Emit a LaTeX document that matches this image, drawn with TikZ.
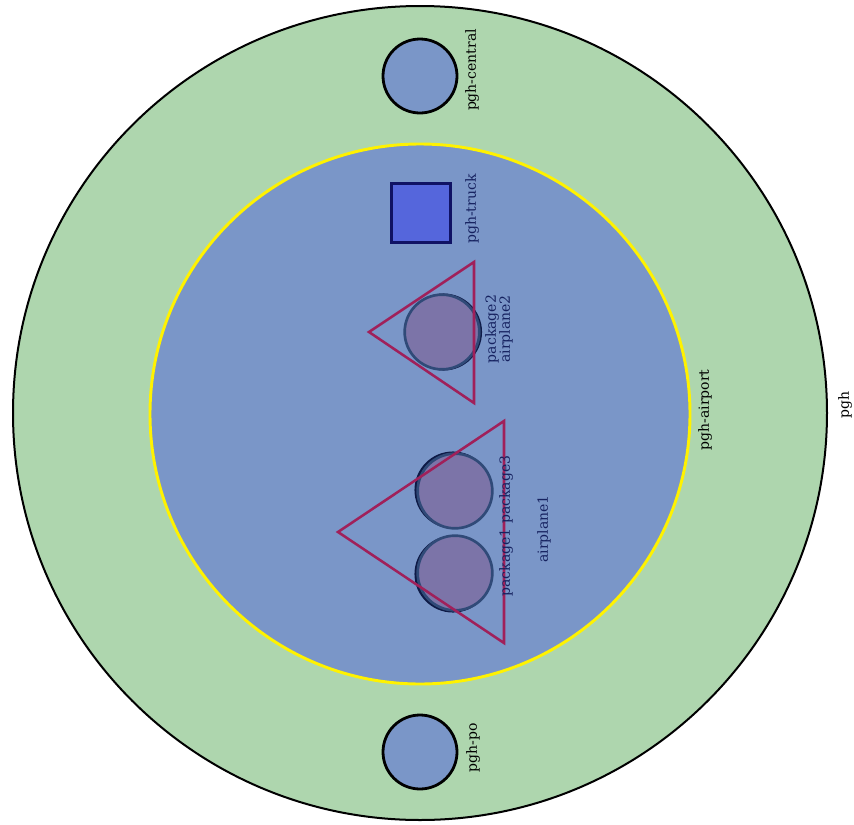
\documentclass[tikz,border=0pt]{standalone}
\usepackage{fontspec}
\setmainfont{DejaVu Serif}
\definecolor{cgreen}{RGB}{174,214,174}
\definecolor{cblue}{RGB}{122,150,200}
\definecolor{ctruck}{RGB}{85,102,220}
\definecolor{cnavy}{RGB}{16,18,100}
\definecolor{cpkg}{RGB}{124,116,168}
\definecolor{cpkgline}{RGB}{48,74,120}
\definecolor{cdark}{RGB}{14,26,70}
\definecolor{cplane}{RGB}{160,32,90}
\definecolor{ctext}{RGB}{22,34,96}
\begin{document}
\begin{tikzpicture}[x=0.75pt,y=-0.75pt,
  lbl/.style={rotate=90, font=\fontsize{10.5}{10.5}\selectfont, inner sep=0pt, align=center},
  place/.style={circle, inner sep=0pt, minimum size=55.5pt, fill=cblue, draw=black, line width=2.1pt},
  pkg/.style={circle, inner sep=0pt, minimum size=56pt, fill=cpkg, draw=cpkgline, line width=2pt},
  pkgshadow/.style={circle, inner sep=0pt, minimum size=56pt, draw=cdark, line width=1.8pt},
  plane/.style={draw=cplane, line width=1.9pt, line join=miter}]
\useasboundingbox (0,0) rectangle (854,825);
% city
\node[circle, inner sep=0pt, minimum size=610.5pt, fill=cgreen, draw=black, line width=1.5pt] (pgh) at (420,413) {};
\node[lbl] (pghl) at (845,405) {pgh};
% airport
\node[circle, inner sep=0pt, minimum size=405pt, fill=cblue, draw=yellow, line width=2.2pt] (airport) at (420,414) {};
\node[lbl] (airportl) at (705,410) {pgh-airport};
% places
\node[place] (central) at (420,76) {};
\node[lbl] (centrall) at (472,70) {pgh-central};
\node[place] (po) at (420,752) {};
\node[lbl] (pol) at (473,748) {pgh-po};
% truck
\node[rectangle, inner sep=0pt, minimum size=44pt, fill=ctruck, draw=cnavy, line width=2.2pt] (truck) at (421,213) {};
\node[lbl, text=ctext] (truckl) at (472,209) {pgh-truck};
% packages
\node[pkgshadow] (p2s) at (443.5,332) {};
\node[pkg] (package2) at (442,332) {};
\node[pkgshadow] (p3s) at (453,490) {};
\node[pkg] (package3) at (455,491) {};
\node[pkgshadow] (p1s) at (453,574) {};
\node[pkg] (package1) at (455,573) {};
% airplanes
\coordinate (a2l) at (369,332);
\coordinate (a2t) at (474,262);
\coordinate (a2b) at (474,403);
\draw[plane] (a2l) -- (a2t) -- (a2b) -- cycle;
\coordinate (a1l) at (338,532);
\coordinate (a1t) at (504,421);
\coordinate (a1b) at (504,643);
\draw[plane] (a1l) -- (a1t) -- (a1b) -- cycle;
% labels
\node[lbl, text=ctext] (a2lbl) at (499,329) {package2\\airplane2};
\node[lbl, text=ctext] (p13lbl) at (506,526) {package1 package3};
\node[lbl, text=ctext] (a1lbl) at (544,529) {airplane1};
\end{tikzpicture}
\end{document}
